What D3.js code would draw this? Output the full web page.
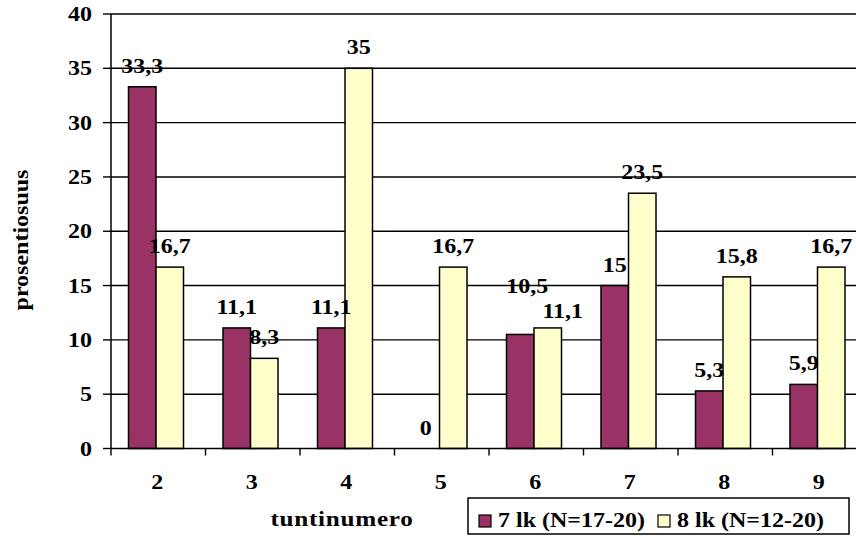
<!DOCTYPE html>
<html>
<head>
<meta charset="utf-8">
<script src="https://cdn.jsdelivr.net/npm/d3@7/dist/d3.min.js"></script>
<style>
  html, body { margin: 0; padding: 0; background: #fff; }
  svg { display: block; }
  text { font-family: "Times New Roman", Times, "Liberation Serif", serif; font-weight: 700; fill: #000; }
</style>
</head>
<body>
<svg id="chart" width="856" height="536"></svg>
<script>
// Lesson number (tuntinumero) and share of pupils, per grade
const categories = ["2", "3", "4", "5", "6", "7", "8", "9"];
const seriesNames = ["7 lk (N=17-20)", "8 lk (N=12-20)"];
const grade7 = [33.3, 11.1, 11.1, 0, 10.5, 15, 5.3, 5.9];
const grade8 = [16.7, 8.3, 35, 16.7, 11.1, 23.5, 15.8, 16.7];
const yTicks = [0, 5, 10, 15, 20, 25, 30, 35, 40];

// Hand-placed value labels (series index, category index) -> pixel nudge
const labelNudge = { "0-4": [7, -27], "1-4": [15, 4] };

const colors = ["#993366", "#FFFFCC"];
const fmt = v => String(v).replace(".", ",");
const SX = 1.2; // horizontal glyph stretch

const svg = d3.select("#chart");
const plotL = 111, plotR = 867, plotT = 14, plotB = 448.5;

const x = d3.scaleBand().domain(categories).range([plotL, plotR]);
const xSub = d3.scaleBand().domain([0, 1]).range([0, 55]);
const y = d3.scaleLinear().domain([0, 40]).range([plotB, plotT]);

function label(g, tx, ty, str, anchor, rot) {
  return g.append("text")
    .attr("transform", `translate(${tx},${ty})` + (rot ? ` rotate(${rot})` : "") + ` scale(${SX},1)`)
    .attr("text-anchor", anchor)
    .text(str);
}

// Gridlines
svg.append("g").selectAll("line")
  .data(yTicks.filter(t => t > 0))
  .join("line")
  .attr("x1", plotL).attr("x2", plotR)
  .attr("y1", d => y(d)).attr("y2", d => y(d))
  .attr("stroke", "#000").attr("stroke-width", 1.4);

// Bars
const series = [grade7, grade8];
const gBars = svg.append("g");
series.forEach((vals, si) => {
  gBars.append("g").selectAll("rect")
    .data(vals.map((v, i) => ({ v, c: categories[i] })).filter(d => d.v > 0))
    .join("rect")
    .attr("x", d => x(d.c) + 17.5 + xSub(si))
    .attr("width", xSub.bandwidth())
    .attr("y", d => y(d.v))
    .attr("height", d => y(0) - y(d.v))
    .attr("fill", colors[si])
    .attr("stroke", "#000")
    .attr("stroke-width", 1.5);
});

// Y axis
const yAxis = svg.append("g");
yAxis.append("line").attr("x1", plotL).attr("x2", plotL).attr("y1", plotT).attr("y2", plotB)
  .attr("stroke", "#000").attr("stroke-width", 1.5);
yTicks.forEach(t => {
  yAxis.append("line").attr("x1", plotL - 8).attr("x2", plotL).attr("y1", y(t)).attr("y2", y(t))
    .attr("stroke", "#000").attr("stroke-width", 1.4);
  label(yAxis, 92, y(t) + 7, String(t), "end").style("font-size", "20px");
});

// X axis
const xAxis = svg.append("g");
xAxis.append("line").attr("x1", plotL).attr("x2", plotR).attr("y1", plotB).attr("y2", plotB)
  .attr("stroke", "#000").attr("stroke-width", 1.5);
categories.forEach(c => {
  xAxis.append("line").attr("x1", x(c)).attr("x2", x(c)).attr("y1", plotB).attr("y2", plotB + 7)
    .attr("stroke", "#000").attr("stroke-width", 1.4);
  label(xAxis, x(c) + x.bandwidth() / 2 - 1, 489, c, "middle").style("font-size", "20px");
});

// Value labels
const gLab = svg.append("g");
series.forEach((vals, si) => {
  vals.forEach((v, i) => {
    const c = categories[i];
    const nudge = labelNudge[`${si}-${i}`] || [0, 0];
    const cx = x(c) + 17.5 + xSub(si) + xSub.bandwidth() / 2 + nudge[0];
    const by = y(v) - 14 + nudge[1];
    label(gLab, cx, by, fmt(v), "middle").style("font-size", "20px");
  });
});

// Axis titles
label(svg, 28, 240, "prosentiosuus", "middle", -90).style("font-size", "20px");
label(svg, 342, 526, "tuntinumero", "middle").style("font-size", "21px").style("letter-spacing", "0.6px");

// Legend
const lg = svg.append("g");
lg.append("rect").attr("x", 468).attr("y", 498).attr("width", 381).attr("height", 36)
  .attr("fill", "#fff").attr("stroke", "#000").attr("stroke-width", 1.5);
const legendX = [479, 658];
seriesNames.forEach((name, i) => {
  lg.append("rect").attr("x", legendX[i]).attr("y", 515).attr("width", 12).attr("height", 12)
    .attr("fill", colors[i]).attr("stroke", "#000").attr("stroke-width", 1.2);
  label(lg, legendX[i] + 19, 527, name, "start").style("font-size", "20px");
});
</script>
</body>
</html>
